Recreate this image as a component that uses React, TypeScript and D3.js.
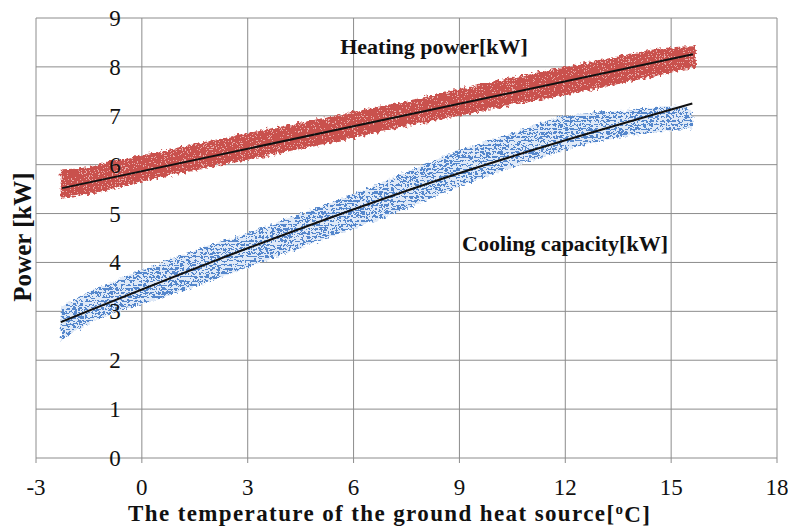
import React, { useRef, useEffect } from "react"
import * as d3 from "d3"

// x ticks / y ticks
const xTicks = [-3, 0, 3, 6, 9, 12, 15, 18]
const yTicks = [0, 1, 2, 3, 4, 5, 6, 7, 8, 9]

// heating power point cloud, read as envelope (temperature, min, max)
const heatX = [-2.3, -1.5, -1, 0, 1.5, 3, 4.5, 6, 7.5, 9, 10.5, 12, 13.5, 15, 15.7]
const heatLow = [5.32, 5.4, 5.47, 5.65, 5.88, 6.1, 6.32, 6.55, 6.78, 7.0, 7.22, 7.42, 7.65, 7.88, 8.0]
const heatHigh = [5.9, 5.95, 6.05, 6.2, 6.42, 6.65, 6.86, 7.08, 7.3, 7.55, 7.78, 8.0, 8.22, 8.4, 8.42]

// cooling capacity point cloud envelope
const coolX = [-2.3, -1.5, 0, 1.5, 3, 4.5, 6, 7.5, 9, 10.5, 12, 13.5, 15, 15.6]
const coolLow = [2.4, 2.75, 3.15, 3.5, 3.9, 4.3, 4.7, 5.1, 5.55, 5.95, 6.3, 6.55, 6.7, 6.75]
const coolHigh = [3.1, 3.4, 3.85, 4.25, 4.6, 5.0, 5.4, 5.85, 6.3, 6.65, 7.0, 7.1, 7.2, 7.1]

// trend lines
const heatTrendX = [-2.26, 15.62]
const heatTrendY = [5.52, 8.26]
const coolTrendX = [-2.3, 3.07, 7.88, 15.6]
const coolTrendY = [2.78, 4.31, 5.56, 7.25]

const App = () => {
  const svgRef = useRef(null)

  useEffect(() => {
    const svg = d3.select(svgRef.current)
    svg.selectAll("*").remove()

    const x = d3.scaleLinear().domain([-3, 18]).range([36, 777])
    const y = d3.scaleLinear().domain([0, 9]).range([458, 18])
    const grid = "#8c8c8c"
    const font = "'Liberation Serif', 'Times New Roman', serif"

    const defs = svg.append("defs")
    const pr = defs.append("pattern").attr("id", "redDots")
      .attr("width", 3).attr("height", 3).attr("patternUnits", "userSpaceOnUse")
    pr.append("rect").attr("width", 3).attr("height", 3).attr("fill", "#c9514d")
    pr.append("rect").attr("x", 2).attr("y", 2).attr("width", 1).attr("height", 1).attr("fill", "#e8aaa7")

    const pb = defs.append("pattern").attr("id", "blueDots")
      .attr("width", 6).attr("height", 4).attr("patternUnits", "userSpaceOnUse")
    pb.append("rect").attr("width", 6).attr("height", 4).attr("fill", "#dfe9f7")
    pb.append("rect").attr("width", 5).attr("height", 2).attr("fill", "#5487cc")

    const f = defs.append("filter").attr("id", "rough")
      .attr("x", "-5%").attr("y", "-10%").attr("width", "110%").attr("height", "120%")
    f.append("feTurbulence").attr("type", "fractalNoise").attr("baseFrequency", 0.3)
      .attr("numOctaves", 2).attr("seed", 4).attr("result", "n")
    f.append("feDisplacementMap").attr("in", "SourceGraphic").attr("in2", "n")
      .attr("scale", 7).attr("xChannelSelector", "R").attr("yChannelSelector", "G")

    // grid
    svg.append("g").selectAll("line").data(yTicks).enter().append("line")
      .attr("x1", x(-3)).attr("x2", x(18))
      .attr("y1", (d) => y(d)).attr("y2", (d) => y(d))
      .attr("stroke", grid).attr("stroke-width", 1)
    svg.append("g").selectAll("line").data(xTicks).enter().append("line")
      .attr("x1", (d) => x(d)).attr("x2", (d) => x(d))
      .attr("y1", y(9)).attr("y2", y(0) + 5)
      .attr("stroke", grid).attr("stroke-width", 1)

    // point clouds
    const area = d3.area()
      .x((d) => x(d[0])).y0((d) => y(d[1])).y1((d) => y(d[2]))
      .curve(d3.curveMonotoneX)
    const heat = heatX.map((v, i) => [v, heatLow[i], heatHigh[i]])
    const cool = coolX.map((v, i) => [v, coolLow[i], coolHigh[i]])
    svg.append("path").datum(heat).attr("d", area)
      .attr("fill", "url(#redDots)").attr("filter", "url(#rough)")
    svg.append("path").datum(cool).attr("d", area)
      .attr("fill", "url(#blueDots)").attr("filter", "url(#rough)")

    // trend lines
    const line = d3.line().x((d) => x(d[0])).y((d) => y(d[1])).curve(d3.curveMonotoneX)
    svg.append("path").datum(heatTrendX.map((v, i) => [v, heatTrendY[i]])).attr("d", line)
      .attr("fill", "none").attr("stroke", "#111").attr("stroke-width", 2)
    svg.append("path").datum(coolTrendX.map((v, i) => [v, coolTrendY[i]])).attr("d", line)
      .attr("fill", "none").attr("stroke", "#111").attr("stroke-width", 2)

    // tick labels
    svg.append("g").selectAll("text").data(yTicks).enter().append("text")
      .attr("x", 115).attr("y", (d) => y(d)).attr("dy", "0.35em")
      .attr("text-anchor", "middle").attr("font-family", font).attr("font-size", 23)
      .attr("fill", "#111").text((d) => d)
    svg.append("g").selectAll("text").data(xTicks).enter().append("text")
      .attr("x", (d) => x(d)).attr("y", 487).attr("dy", "0.35em")
      .attr("text-anchor", "middle").attr("font-family", font).attr("font-size", 23)
      .attr("fill", "#111").text((d) => d)

    // labels
    svg.append("text").attr("x", 434).attr("y", 46).attr("dy", "0.35em")
      .attr("text-anchor", "middle").attr("font-family", font).attr("font-weight", "bold")
      .attr("font-size", 22).attr("fill", "#111").text("Heating power[kW]")
    svg.append("text").attr("x", 565).attr("y", 243).attr("dy", "0.35em")
      .attr("text-anchor", "middle").attr("font-family", font).attr("font-weight", "bold")
      .attr("font-size", 22).attr("fill", "#111").text("Cooling capacity[kW]")
    svg.append("text").attr("transform", "translate(22,237) rotate(-90)").attr("dy", "0.35em")
      .attr("text-anchor", "middle").attr("font-family", font).attr("font-weight", "bold")
      .attr("font-size", 25).attr("fill", "#111").text("Power [kW]")

    const xt = svg.append("text").attr("x", 128).attr("y", 513).attr("dy", "0.35em")
      .attr("text-anchor", "start").attr("font-family", font).attr("font-weight", "bold")
      .attr("font-size", 23).attr("fill", "#111")
      .attr("textLength", 522).attr("lengthAdjust", "spacing")
    xt.append("tspan").text("The temperature of the ground heat source[")
    xt.append("tspan").attr("font-size", 15).attr("dy", "-0.5em").text("o")
    xt.append("tspan").attr("dy", "0.35em").text("C]")
  }, [])

  return (
    <div style={{ position: "absolute", left: 0, top: 0 }}>
      <svg ref={svgRef} width={788} height={528} style={{ display: "block", background: "#fff" }}></svg>
    </div>
  )
}

export default App
